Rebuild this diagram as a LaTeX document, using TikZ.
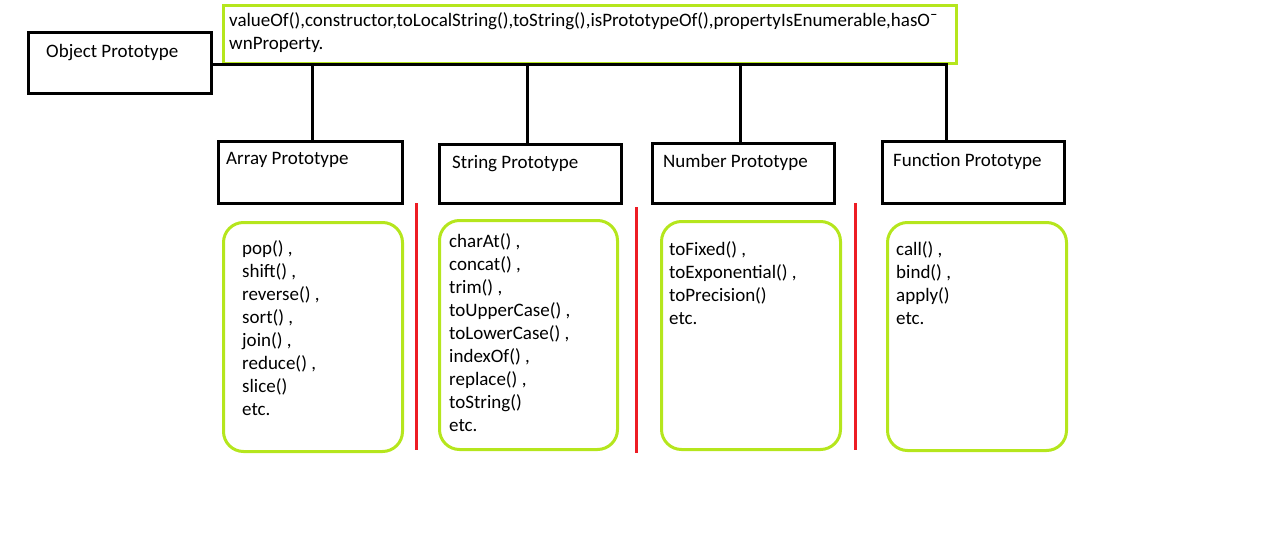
\documentclass[tikz,border=0pt]{standalone}
\usepackage{fontspec}
\setmainfont{Carlito}
\definecolor{lime}{HTML}{B5E61D}
\definecolor{pred}{HTML}{ED1C24}
\begin{document}
\begin{tikzpicture}[x=1pt,y=-1pt,
  blk/.style={draw=black,line width=3pt,inner sep=0pt,anchor=north west},
  gbox/.style={draw=lime,line width=3pt,inner sep=0pt,anchor=north west,rounded corners=20pt},
  topbox/.style={draw=lime,line width=3pt,inner sep=0pt,anchor=north west},
  conn/.style={draw=black,line width=3pt},
  sep/.style={draw=pred,line width=3pt},
  txt/.style={anchor=base west,inner sep=0pt,font=\fontsize{19}{23}\selectfont}]
\useasboundingbox (0,0) rectangle (1275,538);
% object box and top list
\node[blk,minimum width=183pt,minimum height=61pt] (obj) at (27,31) {};
\node[txt] (objT) at (46,57) {Object Prototype};
\node[topbox,minimum width=733pt,minimum height=58pt] (topL) at (222,4) {};
\node[txt] (top1) at (229,26) {valueOf(),constructor,toLocalString(),toString(),isPrototypeOf(),propertyIsEnumerable,hasO¯};
\node[txt] (top2) at (229,49) {wnProperty.};
% prototype boxes
\node[blk,minimum width=184pt,minimum height=62pt] (arr) at (217,140) {};
\node[txt] (arrT) at (226,164) {Array Prototype};
\node[blk,minimum width=182pt,minimum height=59pt] (str) at (438,143) {};
\node[txt] (strT) at (452,168) {String Prototype};
\node[blk,minimum width=182pt,minimum height=60pt] (num) at (651,142) {};
\node[txt] (numT) at (663,167) {Number Prototype};
\node[blk,minimum width=182pt,minimum height=62pt] (fun) at (881,140) {};
\node[txt] (funT) at (893,166) {Function Prototype};
% connectors
\coordinate (j1) at (312,64);
\coordinate (j2) at (527,64);
\coordinate (j3) at (740,64);
\coordinate (j4) at (946,64);
\draw[conn] (obj.east |- j1) -- (j4) -- (j4 |- fun.north);
\draw[conn] (j1) -- (j1 |- arr.north);
\draw[conn] (j2) -- (j2 |- str.north);
\draw[conn] (j3) -- (j3 |- num.north);
% method boxes
\node[gbox,minimum width=179pt,minimum height=229pt] (arrL) at (222,221) {};
\node[gbox,minimum width=178pt,minimum height=229pt] (strL) at (438,219) {};
\node[gbox,minimum width=179pt,minimum height=228pt] (numL) at (660,220) {};
\node[gbox,minimum width=179pt,minimum height=228pt] (funL) at (886,221) {};
\foreach \t [count=\i from 0] in {{pop() ,},{shift() ,},{reverse() ,},{sort() ,},{join() ,},{reduce() ,},{slice()},{etc.}}
  \node[txt] (a\i) at (242,254+23*\i) {\t};
\foreach \t [count=\i from 0] in {{charAt() ,},{concat() ,},{trim() ,},{toUpperCase() ,},{toLowerCase() ,},{indexOf() ,},{replace() ,},{toString()},{etc.}}
  \node[txt] (s\i) at (449,247+23*\i) {\t};
\foreach \t [count=\i from 0] in {{toFixed() ,},{toExponential() ,},{toPrecision()},{etc.}}
  \node[txt] (n\i) at (669,255+23*\i) {\t};
\foreach \t [count=\i from 0] in {{call() ,},{bind() ,},{apply()},{etc.}}
  \node[txt] (f\i) at (896,255+23*\i) {\t};
% red separators
\draw[sep] (416,203) -- (416,450);
\draw[sep] (636,207) -- (636,453);
\draw[sep] (855,203) -- (855,450);
\end{tikzpicture}
\end{document}
